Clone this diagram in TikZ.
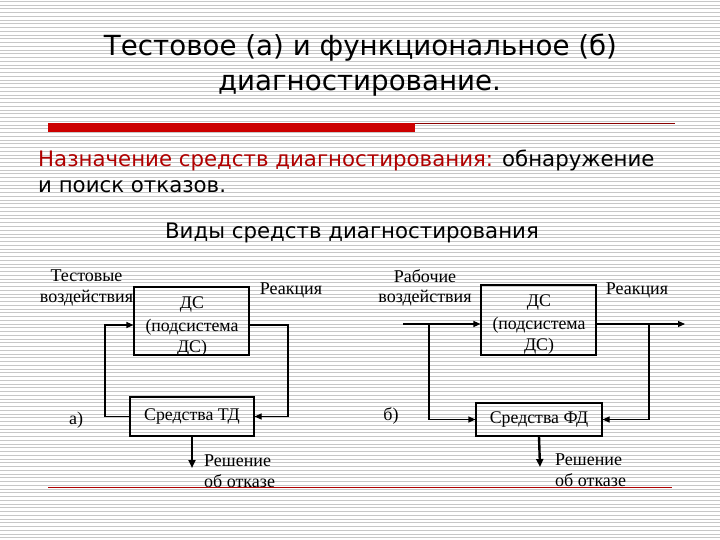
\documentclass[tikz,border=0pt]{standalone}
\usepackage{fontspec}
\setmainfont{Liberation Serif}
\newfontfamily\sansf{DejaVu Sans}
\usetikzlibrary{arrows.meta}
\definecolor{barred}{HTML}{CC0000}
\definecolor{darkred}{HTML}{8B0000}
\definecolor{textred}{HTML}{B00000}
\begin{document}
\begin{tikzpicture}[x=1pt,y=-1pt,
  box/.style={draw, line width=1.1pt, inner sep=0pt},
  conn/.style={line width=1.1pt, -{Triangle[length=7pt,width=6pt]}},
  downarr/.style={line width=2.4pt, -{Triangle[length=8pt,width=7pt]}},
  lbl/.style={font=\fontsize{18}{20.5}\selectfont, inner sep=0pt, align=center},
  boxtxt/.style={font=\fontsize{17.8}{22}\selectfont, align=center},
  ttl/.style={font=\sansf\fontsize{27.7}{33}\selectfont, inner sep=0pt},
  body/.style={font=\sansf\fontsize{21.3}{26}\selectfont, inner sep=0pt}]
\useasboundingbox (0,0) rectangle (720,540);
\fill[white] (0,0) rectangle (720,540);
\foreach \i in {0,...,143} \draw[black!22, line width=1pt] (0,\i*3.75+1.5) -- (720,\i*3.75+1.5);

% title
\node[ttl, anchor=base] (t1) at (360.5,56) {Тестовое (а) и функциональное (б)};
\node[ttl, anchor=base] (t2) at (359.5,91) {диагностирование.};

% rule
\fill[barred] (48,123) rectangle (415,132);
\draw[darkred, line width=1.2pt] (415,123.5) -- (675,123.5);

% body
\node[body, anchor=base west] (b1) at (38,167) {\textcolor{textred}{Назначение средств диагностирования:} обнаружение};
\node[body, anchor=base west] (b2) at (38,193) {и поиск отказов.};
\node[body, anchor=base] (b3) at (352,238) {Виды средств диагностирования};

% left diagram
\node[box, minimum width=115pt, minimum height=68pt] (ds1) at (191.5,321) {};
\node[boxtxt, anchor=base] (ds1a) at (192,308) {ДС};
\node[boxtxt, anchor=base] (ds1b) at (192,331) {(подсистема};
\node[boxtxt, anchor=base] (ds1c) at (192,352) {ДС)};
\node[box, minimum width=124pt, minimum height=39pt, font=\fontsize{17.8}{20}\selectfont] (td1) at (192,416.5) {\raisebox{4pt}{Средства ТД}};
\coordinate (l1) at (105,325);
\coordinate (r1) at (288,325);
\draw[conn] (td1.west) -| (l1) -- (l1 -| ds1.west);
\draw[conn] (r1 -| ds1.east) -- (r1) |- (td1.east);
\coordinate (d1) at (192,468);
\draw[downarr] (td1.south) -- (d1);
\node[lbl] (in1) at (86.5,288) {Тестовые\\воздействия};
\node[lbl] (re1) at (291,290) {Реакция};
\node[lbl] (a1) at (76,420) {а)};
\node[lbl, anchor=base west] (s1a) at (204,466) {Решение};
\node[lbl, anchor=base west] (s1b) at (204,487) {об отказе};

% right diagram
\node[box, minimum width=115pt, minimum height=70pt] (ds2) at (538.5,320) {};
\node[boxtxt, anchor=base] (ds2a) at (539,306) {ДС};
\node[boxtxt, anchor=base] (ds2b) at (539,329) {(подсистема};
\node[boxtxt, anchor=base] (ds2c) at (539,350) {ДС)};
\node[box, minimum width=126pt, minimum height=33pt, font=\fontsize{17.8}{20}\selectfont] (fd2) at (539,419.5) {Средства ФД};
\coordinate (in2) at (403,324);
\coordinate (b2) at (429,324);
\coordinate (c2) at (649,324);
\coordinate (out2) at (685,324);
\draw[conn] (in2) -- (in2 -| ds2.west);
\draw[conn] (b2) |- (fd2.west);
\draw[conn] (ds2.east |- out2) -- (out2);
\draw[conn] (c2) |- (fd2.east);
\coordinate (d2) at (540,467);
\draw[downarr] (fd2.south) -- (d2);
\node[lbl] (in2l) at (425,288) {Рабочие\\воздействия};
\node[lbl] (re2) at (637,290) {Реакция};
\node[lbl] (b2l) at (391,416) {б)};
\node[lbl, anchor=base west] (s2a) at (555,465) {Решение};
\node[lbl, anchor=base west] (s2b) at (555,486) {об отказе};

% bottom rule
\draw[textred, line width=1pt] (48,487) -- (672,487);
\end{tikzpicture}
\end{document}
